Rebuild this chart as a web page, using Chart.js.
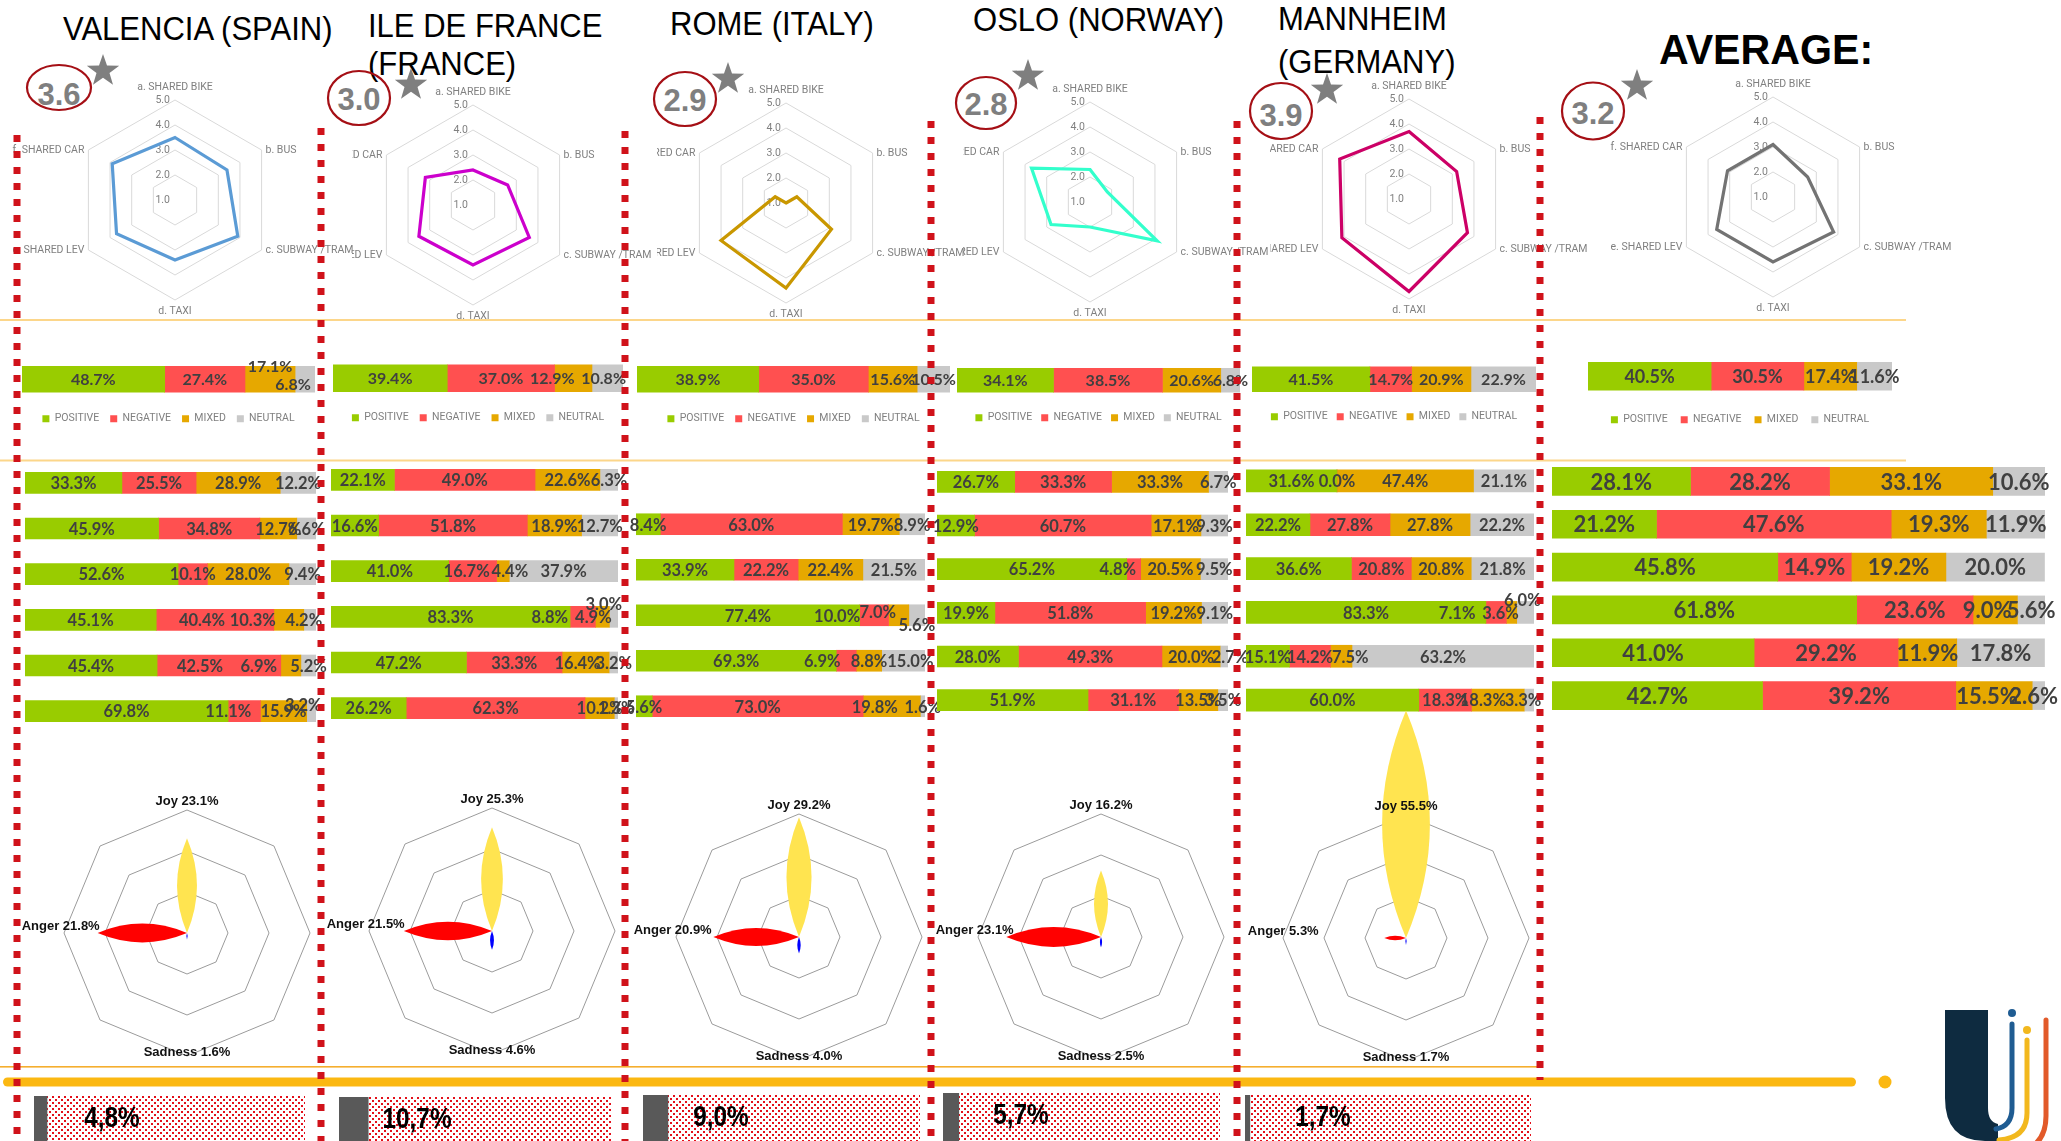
<!DOCTYPE html>
<html>
<head>
<meta charset="utf-8">
<title>Shared mobility sentiment by city</title>
<script src="https://cdn.jsdelivr.net/npm/chart.js@4.4.1/dist/chart.umd.min.js"></script>
<style>
  html, body { margin: 0; padding: 0; background: #fff; }
  body { width: 2061px; height: 1141px; position: relative; overflow: hidden; }
  canvas { display: block; }
  .layer { position: absolute; left: 0; top: 0; pointer-events: none; }
  .clip { position: absolute; overflow: hidden; }
</style>
</head>
<body>
<svg id="under" class="layer" width="2061" height="1141" style="z-index:0"></svg>
<svg id="over" class="layer" width="2061" height="1141" style="z-index:10"></svg>
<script>
// ---------- data ----------
const modeLabels = ['a. SHARED BIKE', 'b. BUS', 'c. SUBWAY /TRAM', 'd. TAXI', 'e. SHARED LEV', 'f. SHARED CAR'];
const sentimentLabels = ['POSITIVE', 'NEGATIVE', 'MIXED', 'NEUTRAL'];
const panelTitles = [['VALENCIA (SPAIN)'], ['ILE DE FRANCE', '(FRANCE)'], ['ROME (ITALY)'], ['OSLO (NORWAY)'], ['MANNHEIM', '(GERMANY)'], ['AVERAGE:']];
const overallScores = [3.6, 3.0, 2.9, 2.8, 3.9, 3.2];

// mean rating per transport mode (1-5)
const ratingValencia = [3.5, 3.4, 3.9, 3.4, 3.7, 3.9];
const ratingIleDeFrance = [2.4, 2.6, 3.6, 3.4, 3.5, 3.2];
const ratingRome = [1.0, 1.5, 3.1, 4.4, 4.0, 1.5];
const ratingOslo = [2.3, 1.8, 4.1, 2.0, 2.8, 3.7];
const ratingMannheim = [3.7, 3.2, 3.7, 4.7, 4.1, 4.2];
const ratingAverage = [3.1, 2.6, 3.8, 3.6, 3.6, 3.1];

// overall sentiment share (positive, negative, mixed, neutral)
const overallValencia = [48.7, 27.4, 17.1, 6.8];
const overallIleDeFrance = [39.4, 37.0, 12.9, 10.8];
const overallRome = [38.9, 35.0, 15.6, 10.5];
const overallOslo = [34.1, 38.5, 20.6, 6.8];
const overallMannheim = [41.5, 14.7, 20.9, 22.9];
const overallAverage = [40.5, 30.5, 17.4, 11.6];

// sentiment share per transport mode (rows follow modeLabels)
const modesValencia = [[33.3, 25.5, 28.9, 12.2], [45.9, 34.8, 12.7, 6.6], [52.6, 10.1, 28.0, 9.4], [45.1, 40.4, 10.3, 4.2], [45.4, 42.5, 6.9, 5.2], [69.8, 11.1, 15.9, 3.2]];
const modesIleDeFrance = [[22.1, 49.0, 22.6, 6.3], [16.6, 51.8, 18.9, 12.7], [41.0, 16.7, 4.4, 37.9], [83.3, 8.8, 4.9, 3.0], [47.2, 33.3, 16.4, 3.2], [26.2, 62.3, 10.2, 1.3]];
const modesRome = [null, [8.4, 63.0, 19.7, 8.9], [33.9, 22.2, 22.4, 21.5], [77.4, 10.0, 7.0, 5.6], [69.3, 6.9, 8.8, 15.0], [5.6, 73.0, 19.8, 1.6]];
const modesOslo = [[26.7, 33.3, 33.3, 6.7], [12.9, 60.7, 17.1, 9.3], [65.2, 4.8, 20.5, 9.5], [19.9, 51.8, 19.2, 9.1], [28.0, 49.3, 20.0, 2.7], [51.9, 31.1, 13.5, 3.5]];
const modesMannheim = [[31.6, 0.0, 47.4, 21.1], [22.2, 27.8, 27.8, 22.2], [36.6, 20.8, 20.8, 21.8], [83.3, 7.1, 3.6, 6.0], [15.1, 14.2, 7.5, 63.2], [60.0, 18.3, 18.3, 3.3]];
const modesAverage = [[28.1, 28.2, 33.1, 10.6], [21.2, 47.6, 19.3, 11.9], [45.8, 14.9, 19.2, 20.0], [61.8, 23.6, 9.0, 5.6], [41.0, 29.2, 11.9, 17.8], [42.7, 39.2, 15.5, 2.6]];

// emotions detected (%)
const joyPct = [23.1, 25.3, 29.2, 16.2, 55.5];
const angerPct = [21.8, 21.5, 20.9, 23.1, 5.3];
const sadnessPct = [1.6, 4.6, 4.0, 2.5, 1.7];

// share of comments per city (%)
const sharePct = [4.8, 10.7, 9.0, 5.7, 1.7];

// ---------- layout & style ----------
const SENT_COLORS = ['#99CC00', '#FF5050', '#E6A800', '#C9C9C9'];
const RADAR_COLORS = ['#5B9BD5', '#CC00CC', '#C99700', '#33FFCC', '#CC0066', '#737373'];
const radarGeo = [
  { cx: 175, cy: 200, clip: null }, { cx: 473, cy: 205, clip: 352 }, { cx: 786, cy: 203, clip: 657 },
  { cx: 1090, cy: 202, clip: 963 }, { cx: 1409, cy: 199, clip: 1270 }, { cx: 1773, cy: 197, clip: null }
];
const topGeo = [
  { l: 22, r: 315, c: 378, t: 26, f: 16, lp: 11, h: 78, off: 22 },
  { l: 333, r: 623, c: 377, t: 27, f: 16, lp: 11, h: 78, off: 22 },
  { l: 637, r: 950, c: 378, t: 26, f: 16, lp: 11, h: 78, off: 22 },
  { l: 957, r: 1240, c: 379, t: 24, f: 16, lp: 9, h: 76, off: 22 },
  { l: 1252, r: 1536, c: 377.5, t: 25, f: 16, lp: 9, h: 76, off: 22 },
  { l: 1588, r: 1892, c: 375, t: 28, f: 18, lp: 13, h: 84, off: 24 }
];
const rowsGeo = [
  { l: 25, r: 316, top: 460, h: 274, t: 21, f: 16.5 }, { l: 331, r: 618, top: 457, h: 274, t: 21, f: 16.5 },
  { l: 636, r: 925, top: 456, h: 273, t: 21, f: 16.5 }, { l: 937, r: 1228, top: 460, h: 262, t: 21, f: 16.5 },
  { l: 1246, r: 1534, top: 459, h: 263, t: 22, f: 16.5 }, { l: 1552, r: 2045, top: 460, h: 257, t: 28, f: 22 }
];
// label shifts where neighbouring segment labels would collide: [row, segment, dx, dy]
const topLabelShift = [[[0, 2, 0, -13], [0, 3, -12, 5]], [[0, 2, -21, 0], [0, 3, -4, 0]], [], [], [], []];
const rowLabelShift = [
  [[3, 1, -13, 0], [3, 2, -36, 0], [3, 3, -6, 0], [4, 1, -19, 0], [4, 2, -32, 0], [5, 1, -16, 0], [5, 3, -8, -6]],
  [[2, 1, -6, 0], [2, 2, 7, 0], [3, 1, -33, 0], [3, 2, -9, 0], [3, 3, -10, -13], [4, 2, -8, 0]],
  [[3, 1, -37, 0], [3, 2, -21, -4], [3, 3, 0, 9], [4, 1, -24, 0], [4, 3, 7, 0], [5, 2, -17, 0]],
  [[2, 1, -16, 0], [4, 3, 6, 0]],
  [[3, 1, -39, 0], [3, 2, -11, 0], [3, 3, -3, -13], [4, 2, 9, 0], [5, 2, -15, 0], [5, 3, -6, 0]],
  [[3, 2, -8, 0], [5, 2, -7, 0], [5, 3, -5, 0]]
];
const emoGeo = [{ cx: 187, cy: 933 }, { cx: 492, cy: 931 }, { cx: 799, cy: 937 }, { cx: 1101, cy: 937 }, { cx: 1406, cy: 938 }];
const shareGeo = [
  { l: 34, w: 271, top: 1096 }, { l: 339, w: 273, top: 1097 }, { l: 643, w: 277, top: 1095 },
  { l: 943, w: 277, top: 1093 }, { l: 1245, w: 286, top: 1095 }
];

Chart.defaults.font.family = 'Roboto';
Chart.defaults.animation = false;
Chart.defaults.responsive = false;
Chart.defaults.events = [];
Chart.defaults.plugins.tooltip.enabled = false;

function addCanvas(parent, left, top, w, h, z) {
  const c = document.createElement('canvas');
  c.width = w; c.height = h;
  c.style.cssText = `position:absolute;left:${left}px;top:${top}px;width:${w}px;height:${h}px;z-index:${z || 1}`;
  parent.appendChild(c);
  return c;
}

// ---------- plugins ----------
// percentage written in the middle of each stacked segment
const segmentLabels = {
  id: 'segmentLabels',
  afterDatasetsDraw(chart, args, opts) {
    const ctx = chart.ctx;
    const shift = {};
    (opts.shift || []).forEach(([row, seg, dx, dy]) => { shift[row + ':' + seg] = [dx, dy]; });
    ctx.save();
    ctx.font = opts.font;
    ctx.fillStyle = '#404040';
    ctx.textAlign = 'center';
    ctx.textBaseline = 'middle';
    chart.data.datasets.forEach((ds, di) => {
      chart.getDatasetMeta(di).data.forEach((bar, i) => {
        const v = ds.data[i];
        if (v === null || v === undefined) return;
        const [dx, dy] = shift[i + ':' + di] || [0, 0];
        ctx.fillText(v.toFixed(1) + '%', (bar.x + bar.base) / 2 + dx, bar.y + 1 + dy);
      });
    });
    ctx.restore();
  }
};

// rating ticks left of the vertical axis, mode names around the hexagon
const radarText = {
  id: 'radarText',
  beforeDatasetsDraw(chart) {
    const s = chart.scales.r, ctx = chart.ctx;
    ctx.save();
    ctx.font = '10.5px Roboto';
    ctx.fillStyle = '#808080';
    ctx.textAlign = 'right';
    ctx.textBaseline = 'middle';
    s.ticks.forEach(t => {
      ctx.fillText(t.value.toFixed(1), s.xCenter - 5, s.yCenter - s.getDistanceFromCenterForValue(t.value));
    });
    ctx.restore();
  },
  afterDraw(chart) {
    const s = chart.scales.r, ctx = chart.ctx;
    ctx.save();
    ctx.font = '10.5px Roboto';
    ctx.fillStyle = '#808080';
    ctx.textBaseline = 'middle';
    chart.data.labels.forEach((lab, i) => {
      const p = s.getPointPositionForValue(i, s.max);
      const dx = p.x - s.xCenter;
      if (Math.abs(dx) < 1) {
        ctx.textAlign = 'center';
        ctx.fillText(lab, p.x, p.y < s.yCenter ? p.y - 13 : p.y + 11);
      } else if (dx > 0) {
        ctx.textAlign = 'left';
        ctx.fillText(lab, p.x + 4, p.y);
      } else {
        ctx.textAlign = 'right';
        ctx.fillText(lab, p.x - 4, p.y);
      }
    });
    ctx.restore();
  }
};

// emotions drawn as leaf-shaped petals from the centre to each data point
const petals = {
  id: 'petals',
  afterDatasetsDraw(chart) {
    const s = chart.scales.r, ctx = chart.ctx;
    ctx.save();
    chart.data.datasets.forEach((ds, di) => {
      chart.getDatasetMeta(di).data.forEach((pt, i) => {
        if (!ds.data[i]) return;
        const dx = pt.x - s.xCenter, dy = pt.y - s.yCenter;
        const L = Math.hypot(dx, dy);
        const nx = -dy / L, ny = dx / L, w = L * 0.21;
        const mx = s.xCenter + dx / 2, my = s.yCenter + dy / 2;
        ctx.beginPath();
        ctx.moveTo(s.xCenter, s.yCenter);
        ctx.quadraticCurveTo(mx + nx * w, my + ny * w, pt.x, pt.y);
        ctx.quadraticCurveTo(mx - nx * w, my - ny * w, s.xCenter, s.yCenter);
        ctx.closePath();
        ctx.fillStyle = ds.petalColor;
        ctx.fill();
      });
    });
    // axis captions with the value
    ctx.font = 'bold 13px "Liberation Sans", Arial, sans-serif';
    ctx.fillStyle = '#111';
    ctx.textBaseline = 'middle';
    chart.data.datasets.forEach(ds => {
      const v = ds.data[ds.axis];
      const txt = ds.label + ' ' + v.toFixed(1) + '%';
      const p = s.getPointPositionForValue(ds.axis, s.max);
      const R = s.drawingArea;
      if (ds.axis === 0) { ctx.textAlign = 'center'; ctx.fillText(txt, p.x, p.y - 9); }
      else if (ds.axis === 4) { ctx.textAlign = 'center'; ctx.fillText(txt, p.x, p.y - 4); }
      else { ctx.textAlign = 'right'; ctx.fillText(txt, s.xCenter - R * 0.71, s.yCenter - 7); }
    });
    ctx.restore();
  }
};

// dotted track behind the share bar and its value
let dotPatternCache = null;
function dotPattern(ctx) {
  if (dotPatternCache) return dotPatternCache;
  const c = document.createElement('canvas');
  c.width = 6; c.height = 6;
  const g = c.getContext('2d');
  g.fillStyle = '#ffffff'; g.fillRect(0, 0, 6, 6);
  g.fillStyle = '#E3101A';
  g.fillRect(0, 0, 2, 2);
  g.fillRect(3, 3, 2, 2);
  dotPatternCache = ctx.createPattern(c, 'repeat');
  return dotPatternCache;
}
const shareTrack = {
  id: 'shareTrack',
  beforeDatasetsDraw(chart) {
    const a = chart.chartArea, ctx = chart.ctx;
    ctx.save();
    ctx.fillStyle = dotPattern(ctx);
    ctx.fillRect(a.left, a.top, a.right - a.left, a.bottom - a.top);
    ctx.restore();
  },
  afterDatasetsDraw(chart) {
    const a = chart.chartArea, ctx = chart.ctx;
    const v = chart.data.datasets[0].data[0];
    ctx.save();
    ctx.font = 'bold 29px "Liberation Sans", Arial, sans-serif';
    ctx.fillStyle = '#000';
    ctx.textAlign = 'center';
    ctx.textBaseline = 'middle';
    ctx.translate(a.left + 78, a.top + 23);
    ctx.scale(0.84, 1);
    ctx.fillText(v.toFixed(1).replace('.', ',') + '%', 0, 0);
    ctx.restore();
  }
};

// ---------- charts ----------
function ratingRadar(i, values) {
  const g = radarGeo[i];
  const W = 440, H = 250;
  const left = g.cx - W / 2, top = g.cy - H / 2;
  let host = document.body, x = left;
  if (g.clip) {
    host = document.createElement('div');
    host.className = 'clip';
    host.style.cssText = `left:${g.clip}px;top:${top}px;width:${left + W - g.clip}px;height:${H}px;z-index:1`;
    document.body.appendChild(host);
    x = left - g.clip;
  }
  const cv = addCanvas(host, x, g.clip ? 0 : top, W, H, 1);
  new Chart(cv, {
    type: 'radar',
    data: { labels: modeLabels, datasets: [{ data: values, borderColor: RADAR_COLORS[i], borderWidth: 3.2, borderJoinStyle: 'miter', pointRadius: 0, fill: false }] },
    options: {
      layout: { padding: { left: 120, right: 120, top: 25, bottom: 25 } },
      plugins: { legend: { display: false } },
      scales: { r: {
        min: 1, max: 5,
        ticks: { stepSize: 1, display: false },
        grid: { color: '#D9D9D9', lineWidth: 1 },
        angleLines: { display: false },
        pointLabels: { display: false }
      } }
    },
    plugins: [radarText]
  });
}

function overallBar(i, values) {
  const g = topGeo[i];
  const W = g.r - g.l;
  const cv = addCanvas(document.body, g.l - 20, g.c - g.off, W + 45, g.h, 2);
  new Chart(cv, {
    type: 'bar',
    data: { labels: [''], datasets: sentimentLabels.map((s, k) => ({ label: s, data: [values[k]], backgroundColor: SENT_COLORS[k], barThickness: g.t })) },
    options: {
      indexAxis: 'y',
      layout: { padding: { left: 20, right: 25 } },
      scales: { x: { stacked: true, display: false, min: 0, max: 100 }, y: { stacked: true, display: false } },
      plugins: {
        legend: { position: 'bottom', labels: { boxWidth: 7, boxHeight: 7, padding: g.lp, color: '#808080', font: { size: 10.5, family: 'Roboto' } } },
        segmentLabels: { font: `bold ${g.f}px Lato`, shift: topLabelShift[i] }
      }
    },
    plugins: [segmentLabels]
  });
}

function modeBars(i, rows) {
  const g = rowsGeo[i];
  const W = g.r - g.l;
  const cv = addCanvas(document.body, g.l - 20, g.top, W + 65, g.h, 2);
  new Chart(cv, {
    type: 'bar',
    data: {
      labels: modeLabels,
      datasets: sentimentLabels.map((s, k) => ({ label: s, data: rows.map(r => (r ? r[k] : null)), backgroundColor: SENT_COLORS[k], barThickness: g.t }))
    },
    options: {
      indexAxis: 'y',
      layout: { padding: { left: 20, right: 45 } },
      scales: { x: { stacked: true, display: false, min: 0, max: 100 }, y: { stacked: true, display: false } },
      plugins: { legend: { display: false }, segmentLabels: { font: `bold ${g.f}px Lato`, shift: rowLabelShift[i] } }
    },
    plugins: [segmentLabels]
  });
}

function emotionRadar(i) {
  const g = emoGeo[i];
  const cv = addCanvas(document.body, g.cx - 180, g.cy - 270, 360, 420, 3);
  const axisLabels = ['Joy', '', '', '', 'Sadness', '', 'Anger', ''];
  const onAxis = (axis, v) => axisLabels.map((_, k) => (k === axis ? v : 0));
  new Chart(cv, {
    type: 'radar',
    data: {
      labels: axisLabels,
      datasets: [
        { label: 'Joy', axis: 0, data: onAxis(0, joyPct[i]), petalColor: '#FFE450', borderWidth: 0, pointRadius: 0, fill: false },
        { label: 'Anger', axis: 6, data: onAxis(6, angerPct[i]), petalColor: '#FF0000', borderWidth: 0, pointRadius: 0, fill: false },
        { label: 'Sadness', axis: 4, data: onAxis(4, sadnessPct[i]), petalColor: '#0000FF', borderWidth: 0, pointRadius: 0, fill: false }
      ]
    },
    options: {
      layout: { padding: { left: 57, right: 57, top: 147, bottom: 27 } },
      plugins: { legend: { display: false } },
      scales: { r: {
        min: 0, max: 30,
        ticks: { stepSize: 10, display: false },
        grid: { color: '#9B9B9B', lineWidth: 1 },
        angleLines: { display: false },
        pointLabels: { display: false }
      } }
    },
    plugins: [petals]
  });
}

function shareBar(i) {
  const g = shareGeo[i];
  const cv = addCanvas(document.body, g.l, g.top, g.w, 50, 2);
  new Chart(cv, {
    type: 'bar',
    data: { labels: [''], datasets: [{ data: [sharePct[i]], backgroundColor: '#595959', barPercentage: 1, categoryPercentage: 1 }] },
    options: {
      indexAxis: 'y',
      scales: { x: { display: false, min: 0, max: 100 }, y: { display: false } },
      plugins: { legend: { display: false } }
    },
    plugins: [shareTrack]
  });
}

[ratingValencia, ratingIleDeFrance, ratingRome, ratingOslo, ratingMannheim, ratingAverage].forEach((v, i) => ratingRadar(i, v));
[overallValencia, overallIleDeFrance, overallRome, overallOslo, overallMannheim, overallAverage].forEach((v, i) => overallBar(i, v));
[modesValencia, modesIleDeFrance, modesRome, modesOslo, modesMannheim, modesAverage].forEach((v, i) => modeBars(i, v));
for (let i = 0; i < 5; i++) { emotionRadar(i); shareBar(i); }

// ---------- titles, score badges, rules, logo ----------
const NS = 'http://www.w3.org/2000/svg';
function svgEl(parent, tag, attrs, text) {
  const e = document.createElementNS(NS, tag);
  for (const k in attrs) e.setAttribute(k, attrs[k]);
  if (text !== undefined) e.textContent = text;
  parent.appendChild(e);
  return e;
}
const under = document.getElementById('under');
const over = document.getElementById('over');

// horizontal rules
svgEl(under, 'rect', { x: 0, y: 319, width: 1906, height: 2, fill: '#FCD68A' });
svgEl(under, 'rect', { x: 0, y: 459.5, width: 1906, height: 2, fill: '#FCD68A' });
svgEl(under, 'rect', { x: 0, y: 1066, width: 1538, height: 1.6, fill: '#F5AE2E' });
svgEl(under, 'rect', { x: 3, y: 1077.5, width: 1853, height: 9, rx: 4.5, fill: '#FBB812' });
svgEl(under, 'circle', { cx: 1885, cy: 1082, r: 6.5, fill: '#FBB812' });

// city titles (slightly condensed)
const titleGeo = [
  [{ x: 63, y: 40 }],
  [{ x: 368, y: 37 }, { x: 368, y: 75 }],
  [{ x: 670, y: 35 }],
  [{ x: 973, y: 31 }],
  [{ x: 1278, y: 30 }, { x: 1278, y: 73 }],
  [{ x: 1659, y: 64 }]
];
panelTitles.forEach((lines, i) => {
  lines.forEach((t, j) => {
    const g = titleGeo[i][j];
    const bold = i === 5;
    const el = svgEl(under, 'text', {
      x: g.x, y: g.y,
      'font-family': 'Liberation Sans, Arial, sans-serif', 'font-size': bold ? 42 : 33,
      'font-weight': bold ? 'bold' : 'normal', fill: '#000'
    }, t);
    const natural = el.getComputedTextLength();
    el.setAttribute('textLength', (natural * (bold ? 0.98 : 0.94)).toFixed(1));
    el.setAttribute('lengthAdjust', 'spacingAndGlyphs');
  });
});

// score badges
const badgeGeo = [
  { cx: 59, cy: 87.5, rx: 32, ry: 22.5, ty: 105, sx: 103, sy: 71 },
  { cx: 359, cy: 98, rx: 31, ry: 27, ty: 110, sx: 411, sy: 85 },
  { cx: 685, cy: 99, rx: 31, ry: 27, ty: 111, sx: 728, sy: 79 },
  { cx: 986, cy: 103, rx: 30, ry: 26, ty: 115, sx: 1028, sy: 76 },
  { cx: 1281, cy: 111, rx: 31, ry: 28, ty: 126, sx: 1327, sy: 90 },
  { cx: 1593, cy: 111, rx: 31, ry: 28.5, ty: 124, sx: 1637, sy: 86 }
];
function starPoints(cx, cy, R, r) {
  const p = [];
  for (let k = 0; k < 10; k++) {
    const a = -Math.PI / 2 + k * Math.PI / 5;
    const rad = k % 2 ? r : R;
    p.push((cx + rad * Math.cos(a)).toFixed(1) + ',' + (cy + rad * Math.sin(a)).toFixed(1));
  }
  return p.join(' ');
}
overallScores.forEach((s, i) => {
  const g = badgeGeo[i];
  svgEl(under, 'ellipse', { cx: g.cx, cy: g.cy, rx: g.rx, ry: g.ry, fill: 'none', stroke: '#A50F15', 'stroke-width': 2.2 });
  svgEl(under, 'text', { x: g.cx, y: g.ty, 'text-anchor': 'middle', 'font-family': 'Liberation Sans, Arial, sans-serif', 'font-size': 31, 'font-weight': 'bold', fill: '#7F7F7F' }, s.toFixed(1));
  svgEl(under, 'polygon', { points: starPoints(g.sx, g.sy, 17, 6.8), fill: '#7F7F7F' });
});

// logo
svgEl(under, 'path', { d: 'M1945,1010 H1988 V1108 Q1988,1122 1998,1124 V1141 H1985 Q1945,1141 1945,1098 Z', fill: '#0E2B40' });
svgEl(under, 'path', { d: 'M2012,1024 V1108 Q2012,1126 1996,1129', fill: 'none', stroke: '#1F5C92', 'stroke-width': 5, 'stroke-linecap': 'round' });
svgEl(under, 'circle', { cx: 2012, cy: 1013, r: 4, fill: '#1F5C92' });
svgEl(under, 'path', { d: 'M2027,1040 V1113 Q2027,1138 1999,1140', fill: 'none', stroke: '#F2B81E', 'stroke-width': 5, 'stroke-linecap': 'round' });
svgEl(under, 'circle', { cx: 2027, cy: 1030, r: 4, fill: '#F2B81E' });
svgEl(under, 'path', { d: 'M2046,1020 V1116 Q2046,1152 2006,1154', fill: 'none', stroke: '#E25A2A', 'stroke-width': 5, 'stroke-linecap': 'round' });

// dotted column separators
const separators = [[17, 135, 1141], [321, 128, 1141], [625, 131, 1141], [931, 121, 1141], [1237, 121, 1141], [1540, 117, 1080]];
separators.forEach(([x, y1, y2]) => {
  svgEl(over, 'line', { x1: x, y1, x2: x, y2, stroke: '#D0121A', 'stroke-width': 7, 'stroke-dasharray': '7 9' });
});
</script>
</body>
</html>
